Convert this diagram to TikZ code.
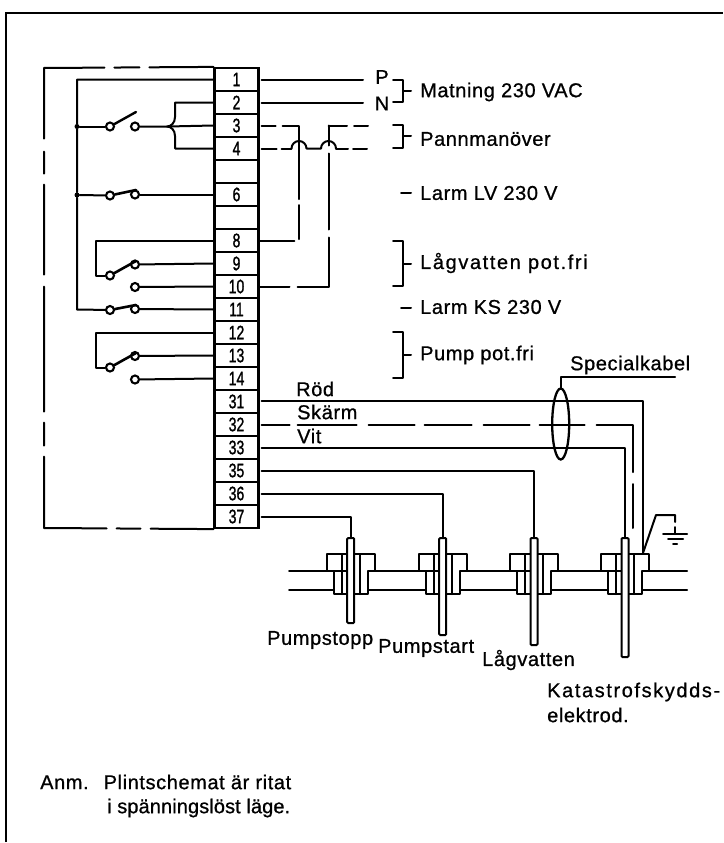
\documentclass[tikz,border=0pt]{standalone}
\usepackage{fontspec}
\setmainfont{Liberation Sans}
\newfontfamily\numfont[FakeStretch=0.72,FakeBold=1.2]{Liberation Sans}
\newfontfamily\lblfont[LetterSpace=3,FakeBold=0.8]{Liberation Sans}
\newfontfamily\widefont[LetterSpace=8,FakeBold=0.8]{Liberation Sans}
\newfontfamily\tightfont[LetterSpace=0.5,FakeBold=0.8]{Liberation Sans}
\usetikzlibrary{calc}
\tikzset{
  wire/.style={line width=2.0pt,line cap=round,line join=round},
  term/.style={draw,line width=2.2pt,minimum width=44pt,minimum height=23pt,inner sep=0pt,fill=white,font=\fontsize{19.5}{19.5}\selectfont\numfont},
  contact/.style={circle,draw,line width=2.1pt,fill=white,minimum size=8pt,inner sep=0pt},
  junction/.style={circle,fill=black,minimum size=5pt,inner sep=0pt},
  lbl/.style={anchor=west,inner sep=0pt,font=\fontsize{20}{22}\selectfont\lblfont},
  lblwide/.style={lbl,font=\fontsize{20}{22}\selectfont\widefont},
  lbltight/.style={lbl,font=\fontsize{20}{22}\selectfont\tightfont},
  fitting/.style={draw,line width=2.0pt,fill=white,line join=round},
  probe/.style={draw,line width=2.0pt,fill=white,rounded corners=1pt},
}
\newcommand{\fittingat}[1]{%
  \draw[fitting] (#1,570.5)--(#1-24,570.5)--(#1-24,554)--(#1+24,554)--(#1+24,570.5)--(#1+17,570.5)--(#1+17,594)--(#1-17,594)--(#1-17,570.5)--cycle;
  \draw[wire] (#1-9,554)--(#1-9,594) (#1+9,554)--(#1+9,594);
}
\begin{document}
\begin{tikzpicture}[x=1pt,y=-1pt]
\useasboundingbox (0,0) rectangle (723,843);
% frame
\draw[line width=2.8pt] (6,842)--(6,13)--(723,13);
% terminal block
\foreach \n/\l/\y in {1/1/79.5,2/2/102.5,3/3/125.5,4/4/148.5,5//171.5,6/6/194.5,7//217.5,8/8/240.5,9/9/263.5,10/10/286.5,11/11/309.5,12/12/332.5,13/13/355.5,14/14/378.5,31/31/401.5,32/32/424.5,33/33/447.5,35/35/470.5,36/36/493.5,37/37/516.5}
  \node[term] (t\n) at (236.5,\y) {\l};
% outer dashed loop
\draw[wire,dash pattern=on 64pt off 10pt on 25pt off 10pt on 131pt off 13pt on 22pt off 11pt on 90pt off 12pt on 125pt off 11pt on 23pt off 11pt on 134pt off 10pt on 24pt off 10pt on 64pt]
  (t1.north west) -- (44,68) -- (44,528) -- (t37.south west);
% contacts
\node[contact] (a1) at (110,126.5) {}; \node[contact] (b1) at (135,126.5) {};
\node[contact] (a2) at (110,195.5) {}; \node[contact] (b2) at (135,194.5) {};
\node[contact] (a3) at (110,275.5) {}; \node[contact] (b3) at (135,264.5) {}; \node[contact] (c3) at (135,287) {};
\node[contact] (a4) at (110,310) {}; \node[contact] (b4) at (135,309) {};
\node[contact] (a5) at (110,367.5) {}; \node[contact] (b5) at (135,356) {}; \node[contact] (c5) at (135,379.5) {};
\node[junction] (j1) at (77,126.5) {};
\node[junction] (j2) at (77,195) {};
% bus
\draw[wire] (t1.west) -- (77,79.5) -- (j1) -- (j2) -- (77,309.5) -- (a4);
\draw[wire] (j1) -- (a1);
\draw[wire] (j2) -- (a2);
% switch wires
\draw[wire] (b1) -- (168,126.5) -- (t3.west);
\draw[wire] (t2.west) -- (175,102.5) -- (175,117) .. controls (175,123) and (171,126.5) .. (167,126.5) .. controls (171,126.5) and (175,130) .. (175,136) -- (175,148.5) -- (t4.west);
\draw[wire] (b2) -- (t6.west);
\draw[wire] (t8.west) -- (96,240.5) -- (96,275.5) -- (a3);
\draw[wire] (b3) -- (t9.west);
\draw[wire] (c3) -- (t10.west);
\draw[wire] (b4) -- (t11.west);
\draw[wire] (t12.west) -- (96,332.5) -- (96,367.5) -- (a5);
\draw[wire] (b5) -- (t13.west);
\draw[wire] (c5) -- (t14.west);
% blades
\draw[line width=2.4pt,line cap=round] (a1) -- (136,112);
\draw[line width=2.6pt,line cap=round] (a2) -- (136,190);
\draw[line width=2.6pt,line cap=round] (a3) -- (136,261);
\draw[line width=2.6pt,line cap=round] (a4) -- (136,305);
\draw[line width=2.6pt,line cap=round] (a5) -- (136,353);
% supply
\coordinate (pend) at (363,79.5);
\coordinate (nend) at (363,102.5);
\draw[wire] (t1.east) ++(2,0) -- (pend);
\draw[wire] (t2.east) ++(2,0) -- (nend);
\node[inner sep=0pt,font=\fontsize{20}{20}\selectfont\lblfont] (P) at (382,77) {P};
\node[inner sep=0pt,font=\fontsize{20}{20}\selectfont\lblfont] (N) at (382,103.5) {N};
% dashed control wiring
\draw[wire,dash pattern=on 14pt off 7pt on 90pt off 6pt on 34pt off 6pt on 34pt off 6pt on 34pt off 6pt on 40pt] (t3.east) ++(2,0) -- (299,125.5) -- (299,240.5) -- (t8.east);
\draw[wire,dash pattern=on 15pt off 5pt on 90pt] (t4.east) ++(2,0) -- (291.5,148.5);
\draw[wire] (291.5,148.5) arc[start angle=180,end angle=360,radius=7.5] -- (321,148.5) arc[start angle=180,end angle=360,radius=7.5];
\draw[wire,dash pattern=on 12pt off 5pt on 14pt] (336,148.5) -- (368,148.5);
\draw[wire,dash pattern=on 14pt off 7pt on 16pt] (368,125.5) -- (339,125.5);
\draw[wire] (339,125.5) -- (328.5,125.5);
\draw[wire,dash pattern=on 20pt off 8pt on 76pt off 8pt on 80pt off 8pt on 41pt off 11pt on 18pt] (328.5,125.5) -- (328.5,286.5) -- (t10.east);
% brackets
\draw[wire] (393,80)--(403,80)--(403,102)--(393,102) (403,91)--(411,91);
\draw[wire] (393,125)--(403,125)--(403,148)--(393,148) (403,136)--(411,136);
\draw[wire] (401,193)--(411,193);
\draw[wire] (393,241)--(403,241)--(403,286)--(393,286) (403,264)--(411,264);
\draw[wire] (401,308)--(411,308);
\draw[wire] (393,332)--(403,332)--(403,378)--(393,378) (403,355)--(411,355);
\node[lbl] (m1) at (420,92) {Matning 230 VAC};
\node[lbl] (m2) at (420,139) {Pannmanöver};
\node[lbl] (m3) at (420,193) {Larm LV 230 V};
\node[lblwide] (m4) at (420,263) {Lågvatten pot.fri};
\node[lbl] (m5) at (420,307) {Larm KS 230 V};
\node[lbl] (m6) at (420,355) {Pump pot.fri};
% pipe
\coordinate (pl) at (289,570.5);
\coordinate (pr) at (687,570.5);
\coordinate (ql) at (289,590);
\coordinate (qr) at (687,590);
\draw[wire] (pl) -- (pr);
\draw[wire] (ql) -- (qr);
\fittingat{350.7}
\fittingat{442.7}
\fittingat{534}
\fittingat{625}
% probes
\node[probe,minimum width=7pt,minimum height=85pt,inner sep=0pt] (p1) at (350.7,580.5) {};
\node[probe,minimum width=7pt,minimum height=97pt,inner sep=0pt] (p2) at (442.7,586.5) {};
\node[probe,minimum width=7pt,minimum height=107pt,inner sep=0pt] (p3) at (534,591.5) {};
\node[probe,minimum width=7pt,minimum height=119pt,inner sep=0pt] (p4) at (625,597.5) {};
% cable wires
\coordinate (gnd) at (643,553);
\draw[wire] (t31.east) ++(2,-1) -- (643,400.5) -- (gnd);
\draw[wire,dash pattern=on 28pt off 8pt on 59pt off 12pt on 46pt off 10pt on 47pt off 12pt on 46pt off 10pt on 45pt off 12pt on 84pt off 12pt on 45pt] (t32.east) ++(2,0) -- (633,424.5) -- (633,528);
\draw[wire] (t33.east) ++(2,0) -- (625,447.5) -- (p4.north);
\draw[wire] (t35.east) ++(2,0) -- (534,470.5) -- (p3.north);
\draw[wire] (t36.east) ++(2,0) -- (442.7,493.5) -- (p2.north);
\draw[wire] (t37.east) ++(2,0) -- (350.7,516.5) -- (p1.north);
% cable ring
\draw[line width=2.3pt] (560.7,424) ellipse[x radius=8.5,y radius=35.5];
\coordinate (ringtop) at (560.7,388.5);
\coordinate (specend) at (675,377);
\draw[wire] (ringtop) -- (560.7,377) -- (specend);
% earth
\coordinate (e1) at (656,515);
\coordinate (e2) at (675,515);
\draw[wire] (gnd) -- (e1) -- (e2) -- (675,522);
\draw[wire] (675,527) -- (675,534);
\draw[wire] (663,534) -- (687,534);
\draw[wire] (668,539) -- (683,539);
\draw[wire] (673,543.5) -- (677,543.5);
% wire labels
\node[lbl] (r) at (296,389) {Röd};
\node[lbl] (s) at (297,412) {Skärm};
\node[lbl] (v) at (297,436) {Vit};
\node[lbl] (sk) at (570,365) {Specialkabel};
\node[lbl] (l1) at (267,640) {Pumpstopp};
\node[lbl] (l2) at (378,648) {Pumpstart};
\node[lbl] (l3) at (482,660) {Lågvatten};
\node[lblwide] (l4) at (547,692) {Katastrofskydds-};
\node[lbl] (l5) at (547,715) {elektrod.};
\node[lbl] (n1) at (40,782) {Anm.\hspace{15pt}Plintschemat är ritat};
\node[lbltight] (n2) at (107,808) {i spänningslöst läge.};
\end{tikzpicture}
\end{document}
